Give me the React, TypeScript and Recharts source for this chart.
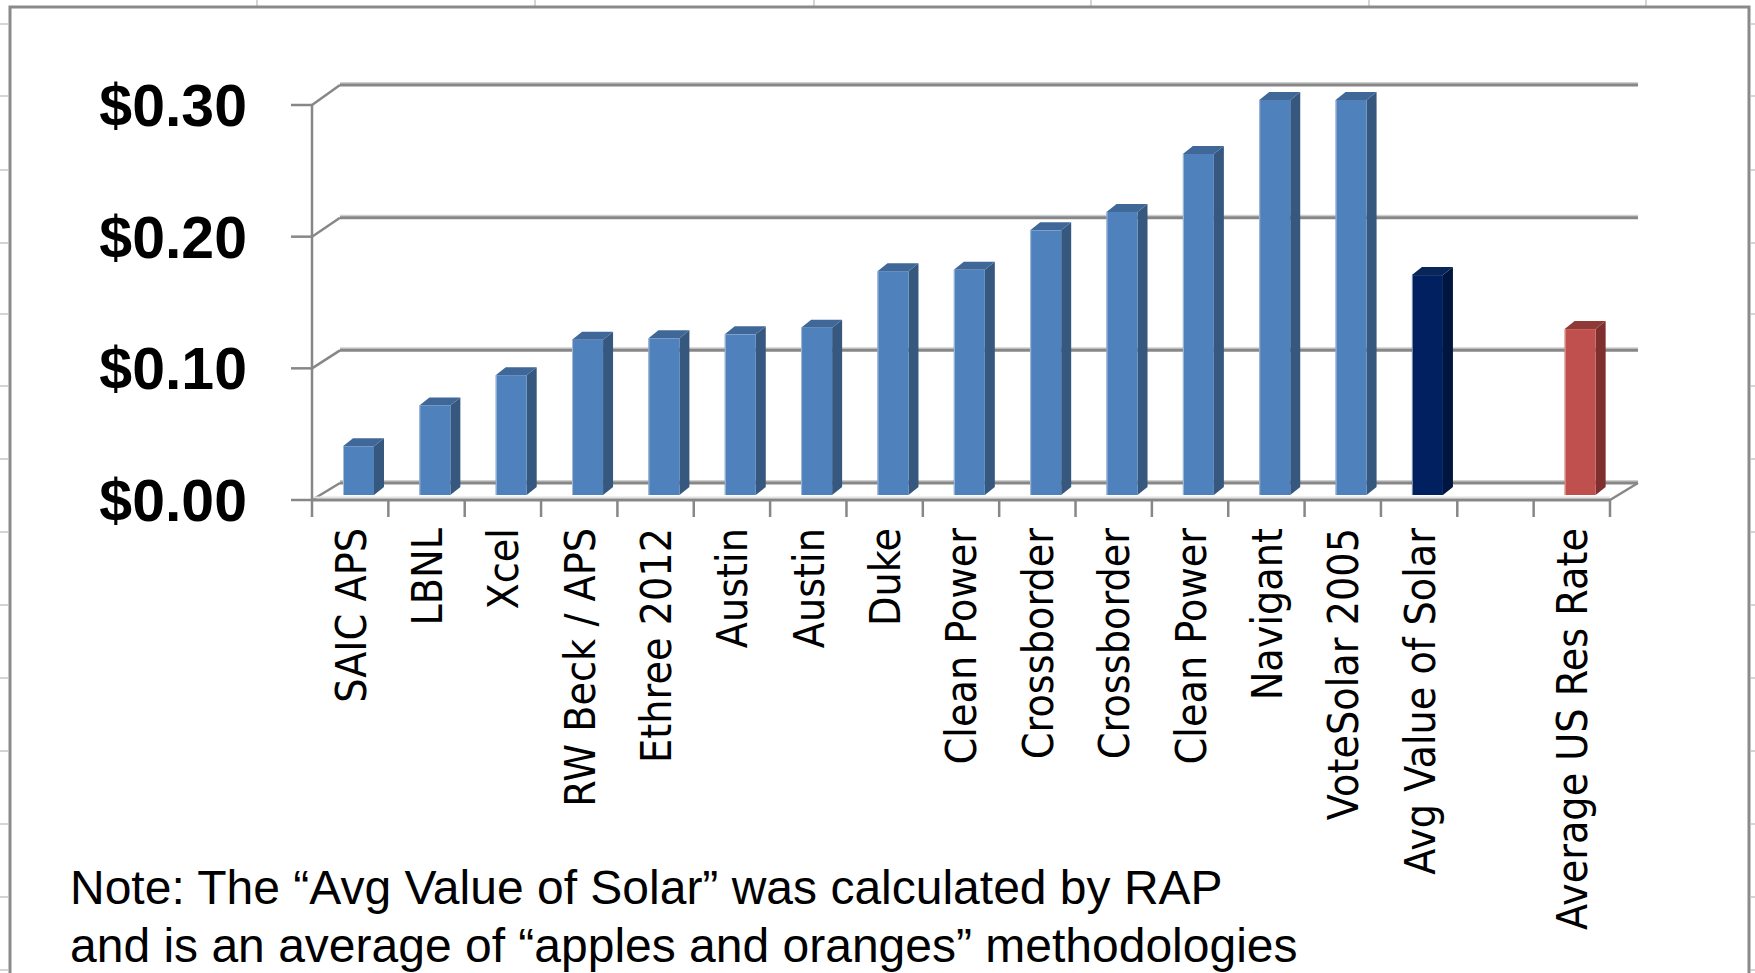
import React from "react"
import { BarChart, Bar, XAxis, YAxis, CartesianGrid, Cell } from "recharts"

// value of solar studies, $/kWh
const categories = [
  "SAIC APS",
  "LBNL",
  "Xcel",
  "RW Beck / APS",
  "Ethree 2012",
  "Austin",
  "Austin",
  "Duke",
  "Clean Power",
  "Crossborder",
  "Crossborder",
  "Clean Power",
  "Navigant",
  "VoteSolar 2005",
  "Avg Value of Solar",
  "",
  "Average US Res Rate",
]
const values: (number | null)[] = [
  0.037, 0.068, 0.091, 0.118, 0.119, 0.122, 0.127, 0.17, 0.171, 0.201, 0.215, 0.259, 0.3, 0.3, 0.167, null, 0.126,
]
const yTicks = [0, 0.1, 0.2, 0.3]
const avgLabel = "Avg Value of Solar"
const resLabel = "Average US Res Rate"
const noteLines = [
  "Note: The \u201CAvg Value of Solar\u201D was calculated by RAP",
  "and is an average of \u201Capples and oranges\u201D methodologies",
]

const W = 1755
const H = 973
const M = { top: 105, right: 145, bottom: 0, left: 0 }
const Y_W = 312
const X_H = 473
const PLOT_L = M.left + Y_W
const PLOT_R = W - M.right
const PLOT_B = H - X_H
const BAND = (PLOT_R - PLOT_L) / categories.length

// 3d look: depth of the box, and where the bars sit inside it
const DX = 28
const DY_TOP = 20
const DY_BOT = 17
const BAR_DX = 8
const BAR_DY = -5
const SIDE_W = 10
const TOP_H = 8

const AXIS = "#878787"
const SOFT = "#cfcfcf"
const BLUE = "#4f81bd"
const NAVY = "#002060"
const RED = "#c0504d"
const SHADES: Record<string, { side: string; top: string; edge: string }> = {
  [BLUE]: { side: "#36587f", top: "#3f6898", edge: "#a7bcd9" },
  [NAVY]: { side: "#00163f", top: "#0a2558", edge: "#7f8fb0" },
  [RED]: { side: "#7f2f2d", top: "#8f3a37", edge: "#e0a6a4" },
}

const data = categories.map((name, i) => ({ name, value: values[i] }))
const barColor = (name: string) => (name === avgLabel ? NAVY : name === resLabel ? RED : BLUE)

const depthAt = (y: number) => DY_BOT + ((DY_TOP - DY_BOT) * (PLOT_B - y)) / (PLOT_B - M.top)

function GridLine(p: any) {
  const { x1, y1, x2 } = p
  const dy = depthAt(y1)
  const by = y1 - dy
  const isFloor = Math.abs(y1 - PLOT_B) < 1
  return (
    <g key={p.key}>
      <line x1={x1 + DX} y1={by - 2} x2={x2 + DX} y2={by - 2} stroke={SOFT} strokeWidth={2} />
      <line x1={x1} y1={y1} x2={x1 + DX} y2={by} stroke={AXIS} strokeWidth={2.5} />
      <line x1={x1 + DX} y1={by} x2={x2 + DX} y2={by} stroke={AXIS} strokeWidth={3} />
      {isFloor && (
        <>
          <line x1={x1} y1={y1 - 2.5} x2={x2} y2={y1 - 2.5} stroke="#e2e2e2" strokeWidth={2} />
          <line x1={x2} y1={y1} x2={x2 + DX} y2={by} stroke={AXIS} strokeWidth={2.5} />
        </>
      )}
    </g>
  )
}

function Bar3D(p: any) {
  const { x, y, width, height, fill, value } = p
  if (value == null || !width || height == null) return null
  const fx = x + BAR_DX
  const fy = y + BAR_DY
  const s = SHADES[fill] ?? SHADES[BLUE]
  const side = `${fx + width},${fy + height} ${fx + width + SIDE_W},${fy + height - TOP_H} ${fx + width + SIDE_W},${fy - TOP_H} ${fx + width},${fy}`
  const top = `${fx},${fy} ${fx + SIDE_W},${fy - TOP_H} ${fx + width + SIDE_W},${fy - TOP_H} ${fx + width},${fy}`
  return (
    <g>
      <polygon points={side} fill={s.side} />
      <polygon points={top} fill={s.top} />
      <rect x={fx} y={fy} width={width} height={height} fill={fill} />
      <line x1={fx + 0.5} y1={fy} x2={fx + 0.5} y2={fy + height} stroke={s.edge} strokeWidth={1} />
    </g>
  )
}

function XTick(p: any) {
  const { x, y, payload, index } = p
  const left = x - BAND / 2
  return (
    <g>
      <line x1={left} y1={y} x2={left} y2={y + 17} stroke={AXIS} strokeWidth={2.5} />
      {index === categories.length - 1 && (
        <line x1={left + BAND} y1={y} x2={left + BAND} y2={y + 17} stroke={AXIS} strokeWidth={2.5} />
      )}
      <text
        transform={`translate(${x},${y + 28}) rotate(-90) scale(0.89,1)`}
        textAnchor="end"
        dy="0.36em"
        fontFamily="DejaVu Sans"
        fontSize={43}
        fill="#000"
      >
        {payload.value}
      </text>
    </g>
  )
}

function Backdrop() {
  const cols = [257, 535, 814, 1091, 1369, 1646]
  const rows = [24, 96, 170, 243, 314, 386, 459, 532, 605, 678, 751, 824, 897, 970]
  return (
    <svg width={W} height={H} style={{ position: "absolute", left: 0, top: 0 }}>
      {cols.map((c) => (
        <line key={c} x1={c} y1={0} x2={c} y2={7} stroke="#d4d4d4" strokeWidth={2} />
      ))}
      {rows.map((r) => (
        <g key={r}>
          <line x1={0} y1={r} x2={8} y2={r} stroke="#d4d4d4" strokeWidth={2} />
          <line x1={1751} y1={r} x2={W} y2={r} stroke="#d4d4d4" strokeWidth={2} />
        </g>
      ))}
      <path d={`M10,${H} L10,7 L1749,7 L1749,${H}`} fill="none" stroke="#8a8a8a" strokeWidth={3} />
      {noteLines.map((t, i) => (
        <text key={i} x={70} y={904 + i * 58} fontFamily="Liberation Sans, Arial" fontSize={48} fill="#000">
          {t}
        </text>
      ))}
    </svg>
  )
}

export default function App() {
  return (
    <div style={{ position: "fixed", left: 0, top: 0, width: W, height: H, background: "#fff", overflow: "hidden" }}>
      <Backdrop />
      <div style={{ position: "absolute", left: 0, top: 0 }}>
        <BarChart width={W} height={H} data={data} margin={M}>
          <CartesianGrid vertical={false} horizontal={(p: any) => <GridLine {...p} />} />
          <YAxis
            width={Y_W}
            domain={[0, 0.3]}
            ticks={yTicks}
            interval={0}
            tickFormatter={(v: number) => `$${v.toFixed(2)}`}
            axisLine={{ stroke: AXIS, strokeWidth: 2.5 }}
            tickLine={{ stroke: AXIS, strokeWidth: 2.5 }}
            tickSize={21}
            tickMargin={44}
            tick={{ fill: "#000", fontSize: 59, fontWeight: 700, fontFamily: "Liberation Sans, Arial" }}
          />
          <XAxis
            dataKey="name"
            height={X_H}
            interval={0}
            tickLine={false}
            tickSize={0}
            tickMargin={0}
            axisLine={{ stroke: AXIS, strokeWidth: 3 }}
            tick={(p: any) => <XTick {...p} />}
          />
          <Bar dataKey="value" barSize={31} isAnimationActive={false} shape={(p: any) => <Bar3D {...p} />}>
            {data.map((d, i) => (
              <Cell key={i} fill={barColor(d.name)} />
            ))}
          </Bar>
        </BarChart>
      </div>
    </div>
  )
}
